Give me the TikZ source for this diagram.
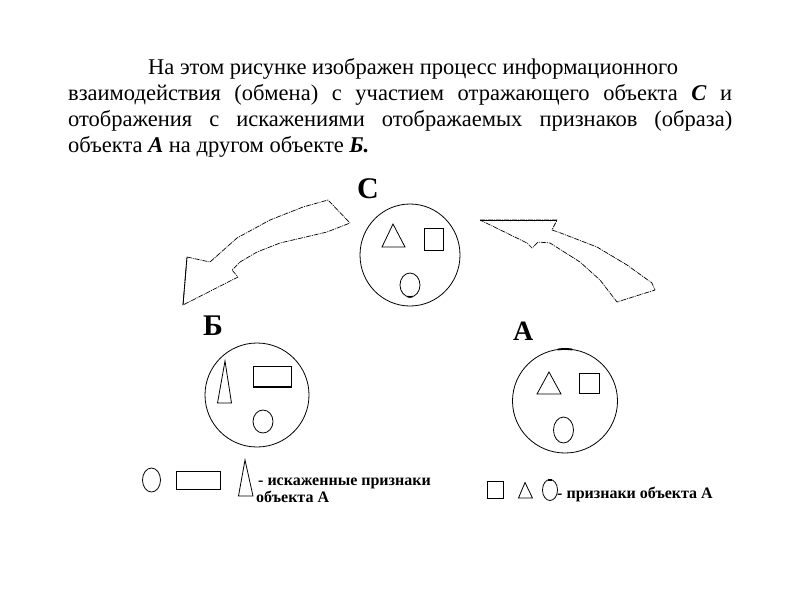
\documentclass[tikz,border=0pt]{standalone}
\usepackage{fontspec}
\setmainfont{Liberation Serif}
\begin{document}
\begin{tikzpicture}[x=1pt,y=-1pt,
  shp/.style={draw=black,line width=0.8pt},
  blk/.style={draw=black,line width=0.7pt,dash pattern=on 5pt off 1pt on 1pt off 1pt,line join=round},
  bodytext/.style={anchor=base west,inner sep=0pt,font=\fontsize{22.5}{26}\selectfont},
  biglab/.style={anchor=base west,inner sep=0pt,font=\fontsize{30}{30}\selectfont\bfseries},
  legtext/.style={anchor=base west,inner sep=0pt,font=\fontsize{16}{18}\selectfont\bfseries}]
\useasboundingbox (0,0) rectangle (794,595);
% paragraph
\node[bodytext] (l1) at (148,74) {На этом рисунке изображен процесс информационного};
\node[bodytext] (l2) at (68,100) {\makebox[664pt][s]{взаимодействия (обмена) с участием отражающего объекта \textbf{\textit{C}} и}};
\node[bodytext] (l3) at (68,126) {\makebox[664pt][s]{отображения с искажениями отображаемых признаков (образа)}};
\node[bodytext] (l4) at (68,152) {объекта \textbf{\textit{A}} на другом объекте \textbf{\textit{Б.}}};
% labels
\node[biglab] (labC) at (357,198) {С};
\node[biglab] (labB) at (203,335) {Б};
\node[biglab] (labA) at (513,340) {\fontsize{28}{28}\selectfont А};
% circle C
\draw[shp] (410,255) ellipse [x radius=50,y radius=51];
\draw[shp] (393,224) -- (382,247) -- (405,247) -- cycle;
\draw[shp] (424,228) rectangle (443,250);
\draw[shp] (410,285) ellipse [x radius=10,y radius=12];
\draw[line width=1.6pt] (410,285) ++(75:10 and 12) arc [start angle=75,end angle=105,x radius=10,y radius=12];
% circle B
\draw[shp] (257,395) ellipse [x radius=52,y radius=52];
\draw[shp] (225,361) -- (217.5,403) -- (231.5,403) -- cycle;
\draw[shp] (253,366) rectangle (291,387);
\draw[line width=1.6pt] (253,387) -- (291,387);
\draw[shp] (263,421.5) ellipse [x radius=10,y radius=11.5];
% circle A
\draw[shp] (565,401) ellipse [x radius=52.5,y radius=52];
\draw[line width=1.8pt] (565,401) ++(262:52.5 and 52) arc [start angle=262,end angle=278,x radius=52.5,y radius=52];
\draw[shp] (549,372) -- (537,394) -- (561,394) -- cycle;
\draw[shp] (579,373.5) rectangle (599,393.5);
\draw[shp] (563.5,430) ellipse [x radius=10,y radius=13];
% left arrow (C -> B)
\draw[blk] (183,305) -- (187,257) -- (210,262) -- (237,238) -- (270,220) -- (303,207) -- (328,200)
  -- (350,223) -- (327,232) -- (280,243) -- (257,252) -- (240,262) -- (232,270) -- (238,277) -- cycle;
\draw[line width=0.8pt] (183,305) -- (187,257);
% right arrow (A -> C)
\draw[blk] (480,220) -- (557,220) -- (552,230) -- (558,232) -- (597,247) -- (627,265) -- (652,283) -- (655,290)
  -- (617,302) -- (600,280) -- (580,262) -- (550,243) -- (538,242) -- (532,248) -- (527,243) -- cycle;
\draw[line width=0.9pt] (480,220) -- (557,220);
% legend left
\draw[shp] (151.5,480) ellipse [x radius=9,y radius=12];
\draw[shp] (176,471) rectangle (220.5,489.5);
\draw[shp] (245,460) -- (238.5,496) -- (253,496) -- cycle;
\node[legtext] (lg1) at (258,485) {- искаженные признаки};
\node[legtext] (lg2) at (256,502) {объекта А};
% legend right
\draw[shp] (487.5,481) rectangle (503.5,498);
\draw[shp] (525,482.5) -- (518.5,498) -- (532.5,498) -- cycle;
\draw[shp] (550,490) ellipse [x radius=7.5,y radius=10.5];
\draw[line width=1.6pt] (550,490) ++(255:7.5 and 10.5) arc [start angle=255,end angle=285,x radius=7.5,y radius=10.5];
\node[legtext] (lg3) at (557,498) {- признаки объекта А};
\end{tikzpicture}
\end{document}
